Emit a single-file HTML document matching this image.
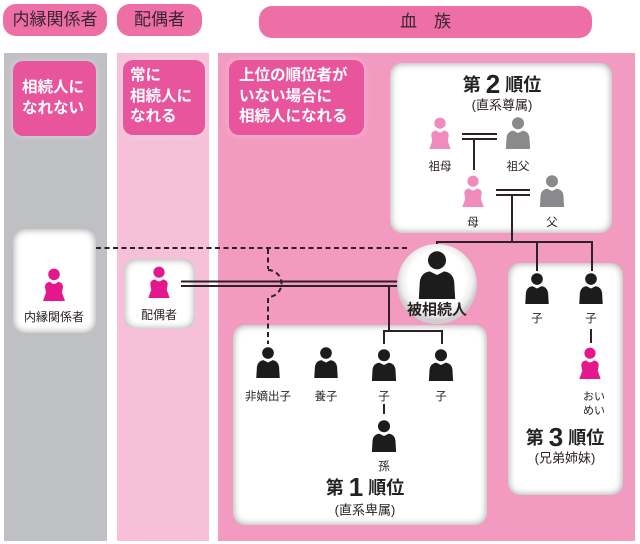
<!DOCTYPE html>
<html><head><meta charset="utf-8">
<style>
*{margin:0;padding:0;box-sizing:border-box}
html,body{width:640px;height:544px;background:#fff;overflow:hidden}
body{position:relative;font-family:"Liberation Sans","Noto Sans CJK JP",sans-serif}
.a{position:absolute}
.col{position:absolute;top:53px;height:488px}
.tab{position:absolute;background:#ee6ea6;border-radius:13px;color:#3a2530;font-size:17px;text-align:center;line-height:32px;height:32px}
.mg{position:absolute;background:#e9559c;border-radius:10px;color:#fff;font-weight:bold;font-size:15.5px;line-height:20.5px;box-shadow:0 0 8px rgba(255,255,255,0.35)}
.wb{position:absolute;background:#fff;border-radius:12px;box-shadow:inset 0 0 7px 1px rgba(0,0,0,0.32)}
</style></head><body>
<div class="col" style="left:4px;width:103px;background:#bfc0c4"></div>
<div class="col" style="left:117px;width:92px;background:#f6c1d8"></div>
<div class="col" style="left:218px;width:417px;background:#f29ac0"></div>

<div class="tab" style="left:3px;top:4px;width:104px">内縁関係者</div>
<div class="tab" style="left:117px;top:4px;width:85px">配偶者</div>
<div class="tab" style="left:259px;top:6px;width:333px">血　族</div>

<div class="mg" style="left:13px;top:61px;width:83px;height:75px;padding:17px 0 0 9px">相続人に<br>なれない</div>
<div class="mg" style="left:123px;top:60px;width:82px;height:75px;padding:6px 0 0 7px">常に<br>相続人に<br>なれる</div>
<div class="mg" style="left:229px;top:60px;width:135px;height:75px;padding:6px 0 0 10px">上位の順位者が<br>いない場合に<br>相続人になれる</div>

<div class="wb" style="left:13px;top:229px;width:83px;height:104px"></div>
<div class="wb" style="left:124px;top:259px;width:71px;height:70px"></div>
<div class="wb" style="left:390px;top:63px;width:222px;height:170px"></div>
<div class="wb" style="left:233px;top:325px;width:254px;height:200px"></div>
<div class="wb" style="left:508px;top:263px;width:115px;height:232px"></div>

<svg class="a" style="left:0;top:0" width="640" height="544" viewBox="0 0 640 544" font-family="'Liberation Sans','Noto Sans CJK JP',sans-serif">
<defs>
<symbol id="m" viewBox="0 0 28 33">
<circle cx="14" cy="6.4" r="6.2"/>
<path d="M1.5,33 L2.2,21 Q3,15 9,14 L14,16.5 L19,14 Q25,15 25.8,21 L26.5,33 Z"/>
</symbol>
<symbol id="f" viewBox="0 0 28 33">
<circle cx="14" cy="6.4" r="5.8"/>
<path d="M3,33 L6,24.5 L5,19 Q5,14.5 10,13.8 Q14,18 18,13.8 Q23,14.5 23,19 L22,24.5 L25,33 Z"/>
</symbol>
<radialGradient id="cg" cx="50%" cy="45%" r="50%">
<stop offset="0" stop-color="#fff"/>
<stop offset="0.72" stop-color="#fff"/>
<stop offset="0.9" stop-color="#ececec"/>
<stop offset="1" stop-color="#cfcfcf"/>
</radialGradient>
</defs>

<g stroke="#2d2026" stroke-width="2" fill="none">
<line x1="462" y1="134" x2="497" y2="134"/>
<line x1="462" y1="139" x2="497" y2="139"/>
<line x1="474" y1="139" x2="474" y2="170"/>
<line x1="496" y1="190" x2="530" y2="190"/>
<line x1="496" y1="195" x2="530" y2="195"/>
<line x1="512" y1="195" x2="512" y2="242"/>
<polyline points="437,250 437,242 592,242 592,271"/>
<line x1="537" y1="242" x2="537" y2="271"/>
<line x1="181" y1="281.5" x2="402" y2="281.5"/>
<line x1="181" y1="286" x2="402" y2="286"/>
<line x1="389" y1="286" x2="389" y2="331"/>
<polyline points="384,344 384,331 442,331 442,344"/>
<line x1="384" y1="404" x2="384" y2="414"/>
<line x1="591" y1="329" x2="591" y2="343"/>
<g stroke-dasharray="5,3.5">
<line x1="96" y1="248" x2="410" y2="248"/>
<line x1="268" y1="249" x2="268" y2="269"/>
<path d="M268,270 A13.5,13.5 0 0 1 268,297"/>
<line x1="268" y1="298" x2="268" y2="344"/>
</g>
</g>

<circle cx="437" cy="284" r="40" fill="url(#cg)"/>

<use href="#f" x="426" y="117" width="28" height="32" fill="#f08bbd"/>
<use href="#m" x="504" y="117" width="28" height="32" fill="#8a8a8d"/>
<use href="#f" x="459" y="175" width="28" height="32" fill="#f08bbd"/>
<use href="#m" x="538" y="175" width="28" height="32" fill="#8a8a8d"/>
<use href="#m" x="416" y="251" width="42" height="48" fill="#1c1c1c"/>
<use href="#m" x="254" y="347" width="28" height="31" fill="#1c1c1c"/>
<use href="#m" x="312" y="347" width="28" height="31" fill="#1c1c1c"/>
<use href="#m" x="370" y="349" width="28" height="32" fill="#1c1c1c"/>
<use href="#m" x="427" y="349" width="28" height="32" fill="#1c1c1c"/>
<use href="#m" x="370" y="420" width="28" height="32" fill="#1c1c1c"/>
<use href="#m" x="523" y="273" width="28" height="31" fill="#1c1c1c"/>
<use href="#m" x="577" y="273" width="28" height="31" fill="#1c1c1c"/>
<use href="#f" x="576" y="347" width="28" height="32" fill="#e5178d"/>
<use href="#f" x="40" y="268" width="28" height="33" fill="#e5178d"/>
<use href="#f" x="145" y="266" width="28" height="32" fill="#e5178d"/>

<g fill="#2a2226" font-size="11.5" text-anchor="middle" dominant-baseline="central">
<text x="440" y="167">祖母</text>
<text x="518" y="167">祖父</text>
<text x="473" y="223">母</text>
<text x="552" y="223">父</text>
<text x="268" y="397">非嫡出子</text>
<text x="326" y="397">養子</text>
<text x="384" y="397">子</text>
<text x="441" y="397">子</text>
<text x="384" y="467">孫</text>
<text x="537" y="319">子</text>
<text x="591" y="319">子</text>
<text x="594" y="397" font-size="11">おい</text>
<text x="594" y="411" font-size="11">めい</text>
<text x="54" y="317" font-size="12">内縁関係者</text>
<text x="159" y="315" font-size="12">配偶者</text>
<text x="437" y="310" font-size="15" font-weight="bold">被相続人</text>
<text x="502" y="105" font-size="13">(直系尊属)</text>
<text x="365" y="510" font-size="13">(直系卑属)</text>
<text x="565" y="458" font-size="13">(兄弟姉妹)</text>
</g>
<g fill="#222" font-weight="bold" text-anchor="middle" dominant-baseline="central">
<text x="502" y="85" font-size="18">第 <tspan font-size="26" dy="-1">2</tspan><tspan dy="1"> 順位</tspan></text>
<text x="365" y="488" font-size="18">第 <tspan font-size="26" dy="-1">1</tspan><tspan dy="1"> 順位</tspan></text>
<text x="565" y="438" font-size="18">第 <tspan font-size="26" dy="-1">3</tspan><tspan dy="1"> 順位</tspan></text>
</g>
</svg>
</body></html>
